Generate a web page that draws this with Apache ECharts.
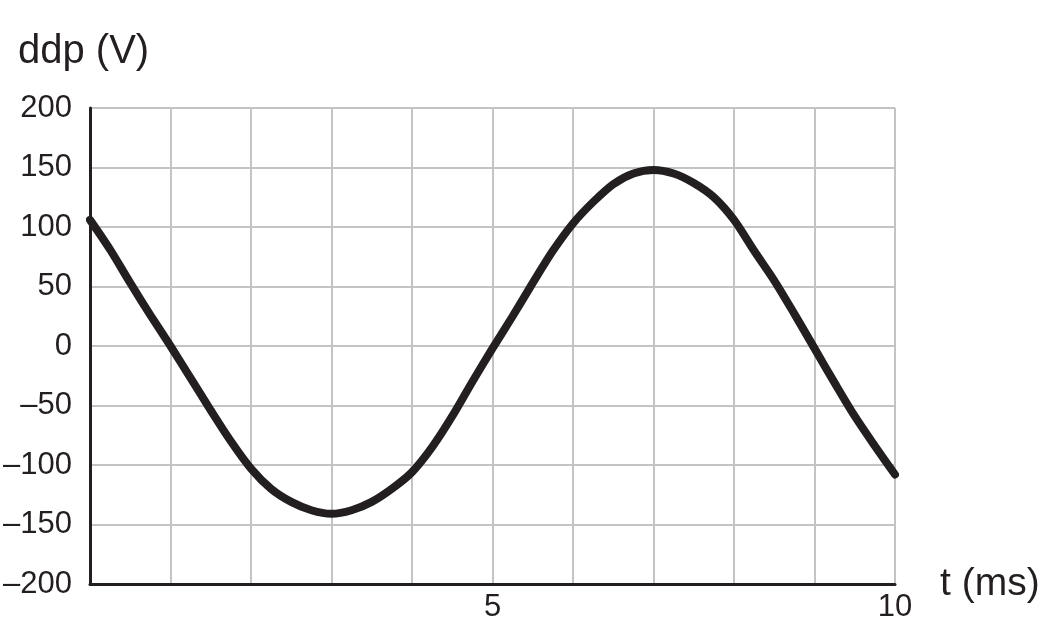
<!DOCTYPE html>
<html>
<head>
<meta charset="utf-8">
<script src="https://cdn.jsdelivr.net/npm/echarts@6/dist/echarts.min.js"></script>
<style>
  html, body { margin: 0; padding: 0; background: #fff; }
  #chart { width: 1051px; height: 643px; }
</style>
</head>
<body>
<div id="chart"></div>
<script>
// tempo em ms e ddp em V
const tempo = [0, 0.25, 0.5, 0.75, 1, 1.25, 1.5, 1.75, 2, 2.25, 2.5, 2.75, 3, 3.25, 3.5, 3.75, 4, 4.25, 4.5, 4.75,
  5, 5.25, 5.5, 5.75, 6, 6.25, 6.5, 6.75, 7, 7.25, 7.5, 7.75, 8, 8.25, 8.5, 8.75, 9, 9.25, 9.5, 9.75, 10];
const ddp = [106, 81, 53, 26, 0, -27, -54, -80, -103, -120, -131, -138, -141, -138, -131, -120, -106, -85, -59, -30,
  -2, 25, 53, 80, 103, 121, 136, 145, 148, 145, 137, 125, 106, 80, 55, 27, -2, -31, -59, -84, -108];
const rotulosX = [5, 10];

const fonte = "'Liberation Sans', Arial, sans-serif";
const cinza = "#c3c3c3";
const preto = "#231f20";

const chart = echarts.init(document.getElementById("chart"));

chart.setOption({
  animation: false,
  grid: { left: 90, right: 156, top: 108, bottom: 59, outerBoundsMode: "none", containLabel: false },
  xAxis: {
    type: "value",
    min: 0,
    max: 10,
    interval: 1,
    name: "t (ms)",
    nameLocation: "end",
    nameGap: 45,
    nameTextStyle: { fontFamily: fonte, fontSize: 39, color: preto, padding: [16, 0, 0, 0] },
    axisLine: { show: true, onZero: false, lineStyle: { color: preto, width: 3 } },
    axisTick: { show: false },
    axisLabel: {
      margin: 8,
      fontFamily: fonte,
      fontSize: 31,
      color: preto,
      formatter: (v) => (rotulosX.includes(v) ? String(v) : ""),
    },
    splitLine: { show: true, lineStyle: { color: cinza, width: 2 } },
  },
  yAxis: {
    type: "value",
    min: -200,
    max: 200,
    interval: 50,
    name: "ddp (V)",
    nameLocation: "end",
    nameGap: 36,
    nameTextStyle: { fontFamily: fonte, fontSize: 40, color: preto, align: "left", padding: [0, 0, 0, -72] },
    axisLine: { show: true, onZero: false, lineStyle: { color: preto, width: 3 } },
    axisTick: { show: false },
    axisLabel: {
      margin: 18,
      fontFamily: fonte,
      fontSize: 31,
      color: preto,
      formatter: (v) => (v < 0 ? "\u2013" + Math.abs(v) : String(v)),
    },
    splitLine: { show: true, lineStyle: { color: cinza, width: 2 } },
  },
  series: [
    {
      type: "line",
      data: tempo.map((t, i) => [t, ddp[i]]),
      smooth: 0.3,
      showSymbol: false,
      lineStyle: { color: preto, width: 8, cap: "round" },
    },
  ],
});
</script>
</body>
</html>
